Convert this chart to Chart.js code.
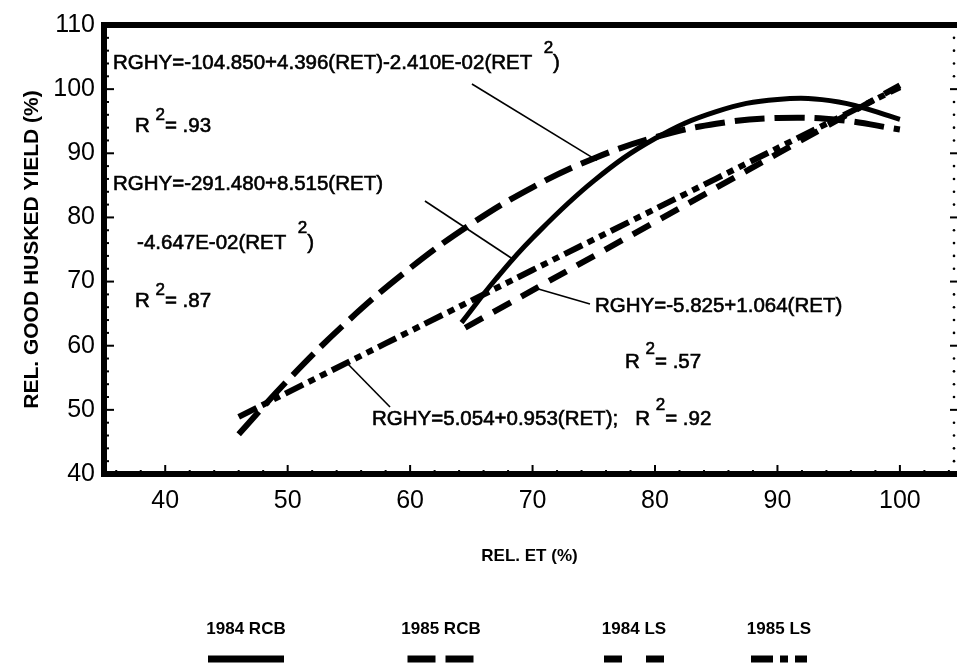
<!DOCTYPE html>
<html>
<head>
<meta charset="utf-8">
<script src="https://cdn.jsdelivr.net/npm/chart.js@4.4.1/dist/chart.umd.min.js"></script>
<style>
  html, body { margin: 0; padding: 0; background: #fff; }
  #wrap { width: 957px; height: 664px; position: relative; }
</style>
</head>
<body>
<div id="wrap"><canvas id="yieldChart"></canvas></div>
<script>
// series (REL. ET % -> REL. GOOD HUSKED YIELD %)
var seriesNames = ["1984 RCB", "1985 RCB", "1984 LS", "1985 LS"];

var rcb84X = [64.2, 67, 70, 75, 80, 85, 90, 95, 100];
var rcb84Y = [63.6, 70.4, 76.8, 85.7, 92.3, 96.5, 98.4, 98.0, 95.3];

var rcb85X = [46, 50, 55, 60, 65, 70, 75, 80, 85, 90, 95, 100];
var rcb85Y = [46.2, 54.6, 64.0, 72.1, 79.0, 84.7, 89.2, 92.5, 94.6, 95.5, 95.2, 93.7];

var ls84X = [64.5, 80, 100];
var ls84Y = [62.8, 79.3, 100.6];

var ls85X = [46, 70, 100];
var ls85Y = [48.9, 71.8, 100.3];

var xTickValues = [40, 50, 60, 70, 80, 90, 100];
var yTickValues = [40, 50, 60, 70, 80, 90, 100, 110];

// regression notes, placed in data units; second item of a part = raise in px
var notes = [
  { x: 35.73, y: 103.1, parts: [["RGHY=-104.850+4.396(RET)-2.410E-02(RET  ", 0], ["2", 16], [")", 0]] },
  { x: 37.53, y: 93.3, parts: [["R ", 0], ["2", 12], ["= .93", 0]] },
  { x: 35.73, y: 84.3, parts: [["RGHY=-291.480+8.515(RET)", 0]] },
  { x: 37.70, y: 75.1, parts: [["-4.647E-02(RET  ", 0], ["2", 16], [")", 0]] },
  { x: 37.53, y: 66.0, parts: [["R ", 0], ["2", 12], ["= .87", 0]] },
  { x: 75.10, y: 65.2, parts: [["RGHY=-5.825+1.064(RET)", 0]] },
  { x: 77.55, y: 56.5, parts: [["R ", 0], ["2", 14], ["= .57", 0]] },
  { x: 56.89, y: 47.6, parts: [["RGHY=5.054+0.953(RET);   R ", 0], ["2", 15], ["= .92", 0]] }
];

var leaders = [
  [65.05, 100.8, 75.26, 88.9],
  [61.21, 82.56, 68.32, 73.6],
  [70.19, 69.0, 74.69, 66.5],
  [54.84, 57.3, 58.36, 50.44]
];

var legendCenters = [246, 441, 634, 779];

function pts(xs, ys) {
  return xs.map(function (v, i) { return { x: v, y: ys[i] }; });
}

var FONT = "'Liberation Sans', Arial, sans-serif";

var framePlugin = {
  id: "frame",
  afterDatasetsDraw: function (chart) {
    var ctx = chart.ctx, ca = chart.chartArea;
    var xs = chart.scales.x, ys = chart.scales.y;
    ctx.save();
    ctx.strokeStyle = "#000";
    ctx.fillStyle = "#000";
    // minor + major ticks
    ctx.lineWidth = 2;
    for (var v = 36; v <= 104; v += 2) {
      var px = xs.getPixelForValue(v);
      var len = v % 10 === 0 ? 9 : 4;
      ctx.beginPath();
      ctx.moveTo(px, ca.bottom);
      ctx.lineTo(px, ca.bottom - len);
      ctx.stroke();
    }
    for (var w = 42; w < 110; w += 2) {
      var py = ys.getPixelForValue(w);
      var major = w % 10 === 0;
      ctx.beginPath();
      ctx.moveTo(ca.left, py);
      ctx.lineTo(ca.left + (major ? 10 : 5), py);
      ctx.stroke();
      if (major) {
        ctx.beginPath();
        ctx.moveTo(ca.right - 5, py);
        ctx.lineTo(ca.right + 2, py);
        ctx.stroke();
      } else {
        ctx.beginPath();
        ctx.arc(ca.right - 1, py, 1.3, 0, Math.PI * 2);
        ctx.fill();
      }
    }
    // thick border on three sides
    ctx.lineWidth = 6;
    ctx.lineCap = "square";
    ctx.beginPath();
    ctx.moveTo(ca.right + 2, ca.top);
    ctx.lineTo(ca.left, ca.top);
    ctx.lineTo(ca.left, ca.bottom);
    ctx.lineTo(ca.right + 2, ca.bottom);
    ctx.stroke();
    ctx.restore();
  },
  afterDraw: function (chart) {
    var ctx = chart.ctx;
    var xs = chart.scales.x, ys = chart.scales.y;
    ctx.save();
    ctx.strokeStyle = "#000";
    ctx.fillStyle = "#000";
    // leader lines
    ctx.lineWidth = 1.6;
    leaders.forEach(function (l) {
      ctx.beginPath();
      ctx.moveTo(xs.getPixelForValue(l[0]), ys.getPixelForValue(l[1]));
      ctx.lineTo(xs.getPixelForValue(l[2]), ys.getPixelForValue(l[3]));
      ctx.stroke();
    });
    // equations (slightly heavier, like the scanned print)
    ctx.textBaseline = "alphabetic";
    ctx.textAlign = "left";
    ctx.lineWidth = 0.6;
    notes.forEach(function (n) {
      var cx = xs.getPixelForValue(n.x);
      var cy = ys.getPixelForValue(n.y);
      n.parts.forEach(function (p) {
        ctx.font = (p[1] ? "17px " : "20.5px ") + FONT;
        ctx.fillText(p[0], cx, cy - p[1]);
        ctx.strokeText(p[0], cx, cy - p[1]);
        cx += ctx.measureText(p[0]).width;
      });
    });
    // legend: name above a line sample
    chart.data.datasets.forEach(function (ds, i) {
      var c = legendCenters[i];
      ctx.font = "bold 17px " + FONT;
      ctx.textAlign = "center";
      ctx.fillText(seriesNames[i], c, 634);
      ctx.lineWidth = 7;
      ctx.setLineDash(ds.legendDash);
      ctx.beginPath();
      ctx.moveTo(c - ds.legendWidth / 2, 659);
      ctx.lineTo(c + ds.legendWidth / 2, 659);
      ctx.stroke();
      ctx.setLineDash([]);
    });
    ctx.restore();
  }
};

var ctx = document.getElementById("yieldChart").getContext("2d");
var chart = new Chart(ctx, {
  type: "line",
  data: {
    datasets: [
      {
        label: seriesNames[0],
        data: pts(rcb84X, rcb84Y),
        borderColor: "#000",
        borderWidth: 5,
        borderDash: [],
        legendDash: [],
        legendWidth: 76,
      },
      {
        label: seriesNames[1],
        data: pts(rcb85X, rcb85Y),
        borderColor: "#000",
        borderWidth: 6,
        borderDash: [30, 10],
        legendDash: [28, 10],
        legendWidth: 67,
      },
      {
        label: seriesNames[2],
        data: pts(ls84X, ls84Y),
        borderColor: "#000",
        borderWidth: 6,
        borderDash: [20, 12],
        legendDash: [18, 24],
        legendWidth: 60,
      },
      {
        label: seriesNames[3],
        data: pts(ls85X, ls85Y),
        borderColor: "#000",
        borderWidth: 6,
        borderDash: [20, 6, 7, 6, 7, 6],
        legendDash: [22, 7, 8, 7],
        legendWidth: 56,
      },
    ],
  },
  options: {
    responsive: true,
    maintainAspectRatio: false,
    animation: false,
    events: [],
    layout: { padding: { left: 0, right: 2, top: 25, bottom: 97 } },
    elements: {
      point: { radius: 0 },
      line: { tension: 0.4, borderCapStyle: "butt", fill: false },
    },
    plugins: {
      legend: { display: false },
      tooltip: { enabled: false },
    },
    scales: {
      x: {
        type: "linear",
        min: 35,
        max: 104.5,
        afterBuildTicks: function (s) { s.ticks = xTickValues.map(function (v) { return { value: v }; }); },
        afterFit: function (s) { s.height = 93; },
        grid: { display: false, drawTicks: false },
        border: { display: false },
        ticks: { color: "#000", padding: 12, maxRotation: 0, font: { family: FONT, size: 25 } },
        title: { display: true, text: "REL. ET (%)", color: "#000", padding: 0, font: { family: FONT, size: 17, weight: "bold" } },
      },
      y: {
        min: 40,
        max: 110,
        afterBuildTicks: function (s) { s.ticks = yTickValues.map(function (v) { return { value: v }; }); },
        afterFit: function (s) { s.width = 104; },
        grid: { display: false, drawTicks: false },
        border: { display: false },
        ticks: { color: "#000", padding: 9, font: { family: FONT, size: 25 } },
        title: { display: true, text: "REL. GOOD HUSKED YIELD (%)", color: "#000", padding: 20, font: { family: FONT, size: 21, weight: "bold" } },
      },
    },
  },
  plugins: [framePlugin],
});
</script>
</body>
</html>
